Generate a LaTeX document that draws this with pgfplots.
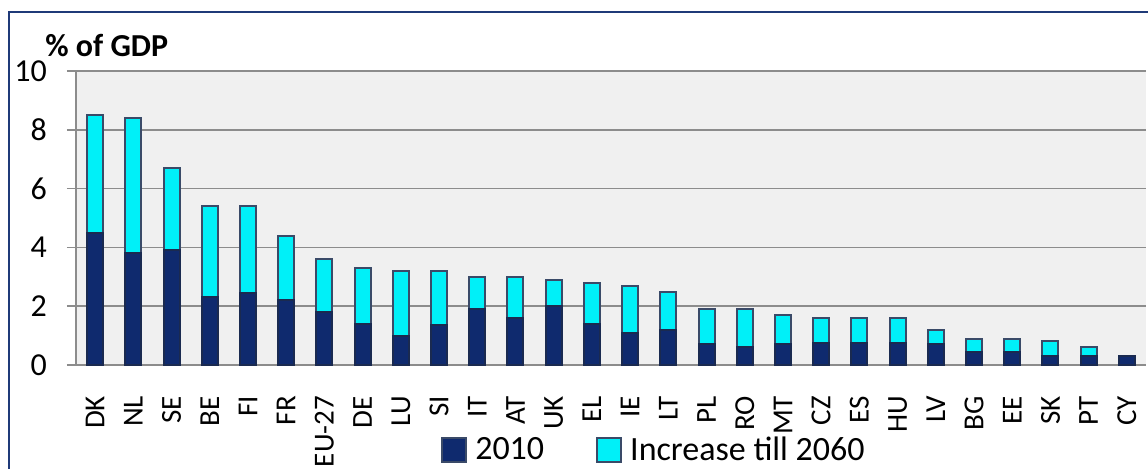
\documentclass[border=0pt]{standalone}
\usepackage{pgfplots}
\pgfplotsset{compat=1.18}
\usepackage{fontspec}
\setmainfont{Carlito}
\definecolor{navybar}{HTML}{0F2A6E}
\definecolor{navyedge}{HTML}{1A2A50}
\definecolor{cyanbar}{HTML}{00F0F8}
\definecolor{cyanedge}{HTML}{3A4A68}
\definecolor{plotbg}{HTML}{F0F0F0}
\definecolor{gridc}{HTML}{8C8C8C}
\definecolor{framec}{HTML}{1F3A78}
\begin{document}
\begin{tikzpicture}
\useasboundingbox (-38pt,-51.5pt) rectangle (536pt,182.5pt);
\clip (-38pt,-51.5pt) rectangle (536pt,182.5pt);
\fill[white] (-38pt,-51.5pt) rectangle (536pt,182.5pt);
\draw[framec, line width=1pt] (-33.5pt,-80pt) rectangle (560pt,176.5pt);
\begin{axis}[
  at={(0,0)}, anchor=south west,
  scale only axis, width=535pt, height=147pt,
  xmin=-0.5, xmax=27.5, ymin=0, ymax=10,
  ybar stacked, bar width=8pt,
  axis background/.style={fill=plotbg},
  axis x line*=bottom, axis y line*=left,
  axis line style={gridc, line width=0.8pt},
  ymajorgrids, grid style={gridc, line width=0.8pt},
  ytick={0,2,...,10},
  tick align=outside,
  major tick length=4.5pt,
  tick style={gridc, line width=0.8pt},
  xtick={0,...,27},
  x tick style={draw=none},
  xticklabels={DK,NL,SE,BE,FI,FR,EU-27,DE,LU,SI,IT,AT,UK,EL,IE,LT,PL,RO,MT,CZ,ES,HU,LV,BG,EE,SK,PT,CY},
  xticklabel style={yshift=-7.5pt, rotate=90, anchor=east, font=\fontsize{14.5}{16}\selectfont},
  yticklabel style={xshift=-6.5pt, font=\fontsize{16}{18}\selectfont},
  /pgf/number format/assume math mode=true,
  extra x ticks={-0.5,0.5,...,27.5},
  extra x tick labels={},
  extra x tick style={major tick length=4pt, tick style={gridc, line width=0.8pt}, grid=none},
  legend columns=2,
  legend style={at={(0.341,-0.29)}, anchor=west, draw=none, fill=none, inner sep=0pt,
    font=\fontsize{17}{18}\selectfont,
    /tikz/every odd column/.append style={column sep=2pt},
    /tikz/every even column/.append style={column sep=24pt}},
  clip=false,
]
\addplot[fill=navybar, draw=navyedge, line width=1pt,
  legend image code/.code={\draw[fill=navybar, draw=cyanedge, line width=1pt] (0pt,-6pt) rectangle (12pt,6pt);}]
  coordinates {(0,4.5) (1,3.8) (2,3.9) (3,2.3) (4,2.45) (5,2.2) (6,1.8) (7,1.4) (8,1.0) (9,1.35)
  (10,1.9) (11,1.6) (12,2.0) (13,1.4) (14,1.1) (15,1.2) (16,0.7) (17,0.6) (18,0.7) (19,0.75)
  (20,0.75) (21,0.75) (22,0.7) (23,0.45) (24,0.45) (25,0.3) (26,0.3) (27,0.3)};
\addplot[fill=cyanbar, draw=cyanedge, line width=1pt,
  legend image code/.code={\draw[fill=cyanbar, draw=cyanedge, line width=1pt] (0pt,-6pt) rectangle (12pt,6pt);}]
  coordinates {(0,4.0) (1,4.6) (2,2.8) (3,3.1) (4,2.95) (5,2.2) (6,1.8) (7,1.9) (8,2.2) (9,1.85)
  (10,1.1) (11,1.4) (12,0.9) (13,1.4) (14,1.6) (15,1.3) (16,1.2) (17,1.3) (18,1.0) (19,0.85)
  (20,0.85) (21,0.85) (22,0.5) (23,0.45) (24,0.45) (25,0.5) (26,0.3) (27,0.0)};
\legend{2010,Increase till 2060}
\end{axis}
\node[anchor=base west, inner sep=0pt, font=\fontsize{16}{18}\bfseries] at (-15.5pt,154.5pt) {\% of GDP};
\end{tikzpicture}
\end{document}
